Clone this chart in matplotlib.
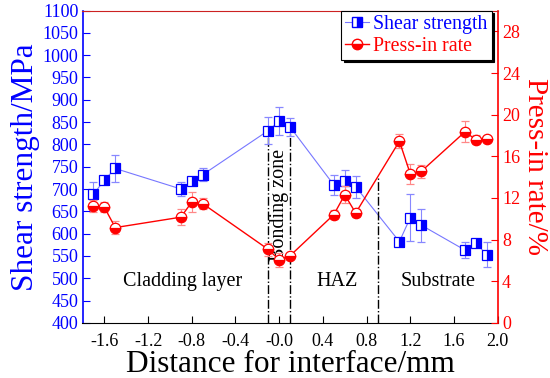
import matplotlib
matplotlib.use("Agg")
import matplotlib.pyplot as plt
from matplotlib.lines import Line2D
import numpy as np

plt.rcParams['font.family'] = ['Liberation Serif', 'DejaVu Serif']

distance = [-1.7, -1.6, -1.5, -0.9, -0.8, -0.7, -0.1, 0.0, 0.1,
            0.5, 0.6, 0.7, 1.1, 1.2, 1.3, 1.7, 1.8, 1.9]
shear = [688, 720, 746, 700, 718, 732, 831, 852, 839,
         709, 718, 705, 582, 636, 619, 563, 578, 553]
shear_err = [28, 5, 30, 15, 5, 14, 31, 31, 21,
             22, 25, 25, 5, 52, 37, 18, 5, 28]
press = [11.2, 11.1, 9.15, 10.15, 11.6, 11.45, 7.05, 6.05, 6.45,
         10.4, 12.3, 10.55, 17.45, 14.3, 14.55, 18.35, 17.6, 17.7]
press_err = [0.6, 0.5, 0.6, 0.75, 1.0, 0.55, 0.6, 0.65, 0.2,
             0.4, 0.8, 0.4, 0.7, 0.95, 0.65, 1.0, 0.4, 0.2]

boundaries = [-0.1, 0.1, 0.9]
regions = ["Cladding layer", "HAZ", "Substrate"]
region_x = [-0.88, 0.53, 1.45]

blue = '#0000ff'
red = '#ff0000'

fig = plt.figure(figsize=(5.5, 3.78), dpi=100)
ax1 = fig.add_axes([0.150, 0.146, 0.755, 0.826])
ax2 = ax1.twinx()

# shear strength
ax1.errorbar(distance, shear, yerr=shear_err, color='#7777ff', lw=0.8,
             ecolor='#8888ff', elinewidth=0.8, capsize=3, capthick=0.8,
             marker='s', markersize=6.5, mfc=blue, mec=blue,
             fillstyle='right', markerfacecoloralt='white', mew=0.9,
             zorder=3)
# press-in rate
ax2.errorbar(distance, press, yerr=press_err, color=red, lw=1.0,
             ecolor='#ff8888', elinewidth=0.8, capsize=3, capthick=0.8,
             marker='o', markersize=7.5, mfc=red, mec=red,
             fillstyle='bottom', markerfacecoloralt='white', mew=0.9,
             zorder=3)

# boundary dash-dot lines
idx_m = distance.index(boundaries[0])
idx_p = distance.index(boundaries[1])
ax1.vlines([boundaries[0]], 400, shear[idx_m], colors='black',
           linestyles='dashdot', lw=1.0, zorder=2)
ax1.vlines([boundaries[1]], 400, shear[idx_p], colors='black',
           linestyles='dashdot', lw=1.0, zorder=2)
ax2.vlines([boundaries[2]], 0, np.interp(boundaries[2], distance, press),
           colors='black', linestyles='dashdot', lw=1.0, zorder=2)

ax1.set_xlim(-1.8, 2.0)
ax1.set_ylim(400, 1100)
ax2.set_ylim(0, 30)
xt = np.arange(-1.6, 2.01, 0.4)
ax1.set_xticks(xt)
ax1.set_xticklabels([f"{v:.1f}" for v in xt])
ax1.set_yticks(np.arange(400, 1101, 50))
ax2.set_yticks(np.arange(0, 29, 4))

ax1.tick_params(axis='x', direction='in', labelsize=13, length=5, pad=7)
ax1.tick_params(axis='y', direction='in', labelsize=13, length=5,
                colors=blue, pad=3)
ax2.tick_params(axis='y', direction='in', labelsize=13, length=5,
                colors=red, pad=3)

ax1.spines['left'].set_color(blue)
ax1.spines['left'].set_linewidth(1.2)
ax2.spines['left'].set_visible(False)
ax2.spines['right'].set_color(red)
ax2.spines['right'].set_linewidth(1.2)
ax1.spines['right'].set_visible(False)
ax1.spines['top'].set_visible(False)
ax2.spines['top'].set_color('#cc2222')
ax2.spines['bottom'].set_visible(False)
ax1.spines['bottom'].set_color('black')

ax1.set_xlabel("Distance for interface/mm", fontsize=22.5, labelpad=0)
ax1.set_ylabel("Shear strength/MPa", fontsize=22.5, color=blue, labelpad=2)
ax2.set_ylabel("Press-in rate/%", fontsize=21, color=red, rotation=-90,
               labelpad=20)

for name, xr in zip(regions, region_x):
    ax1.text(xr, 493, name, fontsize=14.5, ha='center', va='center')
ax1.text(0.0, 664, "Bonding zone", fontsize=14.5, rotation=90,
         ha='center', va='center')

# legend
lh1 = Line2D([], [], color='#7777ff', lw=0.8, marker='s', markersize=6.5,
             mfc=blue, mec=blue, fillstyle='right',
             markerfacecoloralt='white')
lh2 = Line2D([], [], color=red, lw=1.0, marker='o', markersize=7.5,
             mfc=red, mec=red, fillstyle='bottom',
             markerfacecoloralt='white')
leg = ax2.legend([lh1, lh2], ["Shear strength", "Press-in rate"],
                 loc='upper right', bbox_to_anchor=(0.985, 1.0),
                 fontsize=14.3, frameon=True, fancybox=False,
                 shadow={'color': 'black', 'alpha': 1.0},
                 edgecolor='black', framealpha=1, handlelength=1.2,
                 handletextpad=0.2, borderpad=0.2, labelspacing=0.15,
                 borderaxespad=0)
leg.get_frame().set_linewidth(0.8)
for t, c in zip(leg.get_texts(), [blue, red]):
    t.set_color(c)

fig.savefig("out.png", dpi=100)
